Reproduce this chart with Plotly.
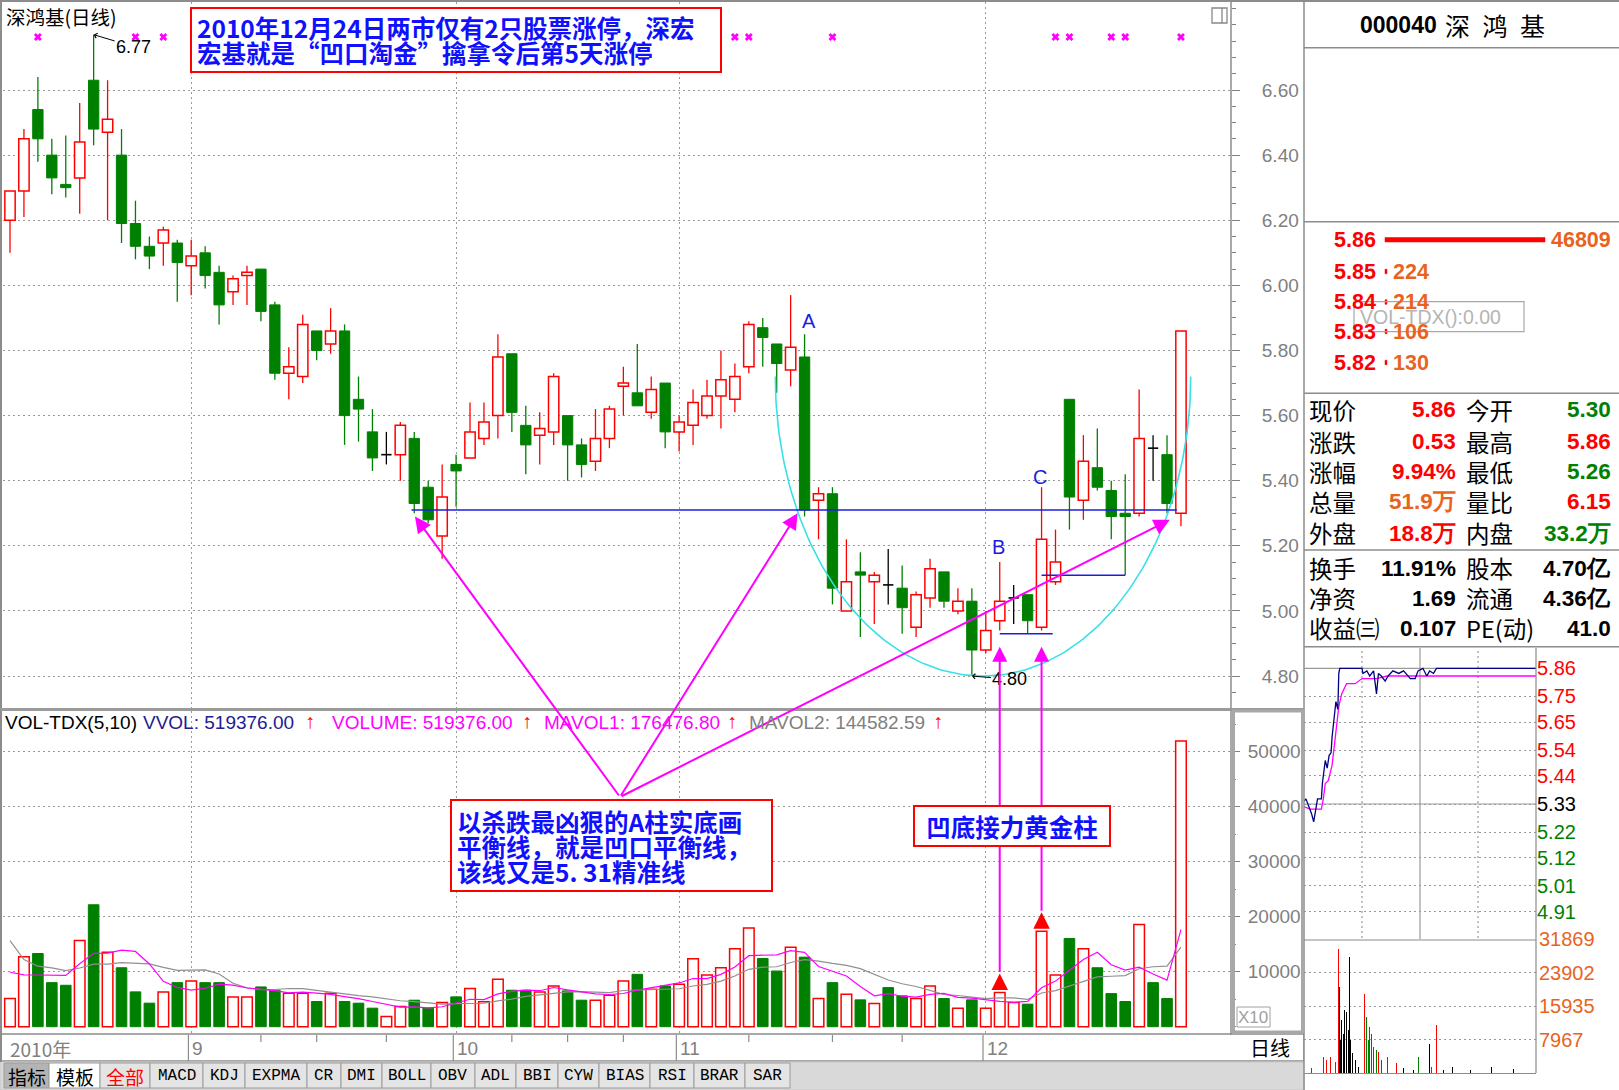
import numpy as np
import pandas as pd
import plotly.graph_objects as go

W, H = 1619, 1090

# ---------------- daily bars: 000040 深鸿基, Aug - Dec 2010 ----------------
opens = [6.20, 6.29, 6.54, 6.40, 6.31, 6.33, 6.63, 6.47, 6.40, 6.19,
         6.12, 6.13, 6.13, 6.06, 6.10, 6.04, 5.98, 6.03, 6.05, 5.94,
         5.73, 5.72, 5.86, 5.82, 5.86, 5.65, 5.55, 5.48, 5.48, 5.53,
         5.38, 5.23, 5.45, 5.47, 5.53, 5.60, 5.79, 5.57, 5.54, 5.55,
         5.60, 5.51, 5.46, 5.53, 5.69, 5.67, 5.61, 5.70, 5.55, 5.57,
         5.60, 5.66, 5.65, 5.75, 5.87, 5.82, 5.74, 5.78, 5.34, 5.36,
         5.00, 5.12, 5.09, 5.08, 5.07, 4.95, 5.04, 5.12, 5.00, 5.03,
         4.88, 4.97, 5.04, 5.05, 4.95, 5.09, 5.65, 5.34, 5.44, 5.37,
         5.30, 5.30, 5.50, 5.48, 5.30]
highs = [6.29, 6.48, 6.64, 6.45, 6.46, 6.56, 6.77, 6.63, 6.48, 6.26,
         6.15, 6.18, 6.14, 6.14, 6.12, 6.06, 6.03, 6.06, 6.05, 5.95,
         5.81, 5.91, 5.86, 5.93, 5.88, 5.72, 5.62, 5.55, 5.58, 5.55,
         5.40, 5.45, 5.48, 5.64, 5.64, 5.85, 5.79, 5.63, 5.61, 5.73,
         5.60, 5.53, 5.62, 5.63, 5.75, 5.82, 5.72, 5.70, 5.60, 5.68,
         5.71, 5.80, 5.76, 5.89, 5.90, 5.82, 5.97, 5.85, 5.38, 5.38,
         5.22, 5.18, 5.12, 5.19, 5.14, 5.06, 5.16, 5.12, 5.07, 5.07,
         5.00, 5.15, 5.08, 5.05, 5.38, 5.25, 5.65, 5.54, 5.56, 5.40,
         5.42, 5.68, 5.54, 5.54, 5.86]
lows = [6.10, 6.21, 6.38, 6.28, 6.27, 6.22, 6.43, 6.20, 6.13, 6.08,
        6.05, 6.06, 5.95, 5.97, 5.99, 5.88, 5.94, 5.94, 5.89, 5.71,
        5.65, 5.70, 5.77, 5.79, 5.51, 5.52, 5.43, 5.45, 5.40, 5.30,
        5.27, 5.16, 5.32, 5.47, 5.51, 5.53, 5.55, 5.42, 5.45, 5.51,
        5.40, 5.41, 5.43, 5.50, 5.60, 5.63, 5.59, 5.50, 5.49, 5.51,
        5.59, 5.56, 5.61, 5.73, 5.75, 5.67, 5.69, 5.29, 5.22, 5.02,
        5.00, 4.92, 4.96, 5.02, 4.93, 4.92, 5.01, 5.01, 4.99, 4.80,
        4.87, 4.94, 4.96, 4.93, 4.94, 5.08, 5.25, 5.28, 5.37, 5.22,
        5.11, 5.29, 5.40, 5.30, 5.26]
closes = [6.29, 6.45, 6.45, 6.33, 6.30, 6.44, 6.48, 6.51, 6.19, 6.12,
          6.09, 6.17, 6.07, 6.09, 6.03, 5.94, 6.02, 6.04, 5.92, 5.73,
          5.75, 5.88, 5.80, 5.86, 5.60, 5.62, 5.47, 5.48, 5.57, 5.33,
          5.28, 5.35, 5.43, 5.55, 5.58, 5.78, 5.61, 5.51, 5.56, 5.72,
          5.51, 5.45, 5.53, 5.62, 5.70, 5.63, 5.68, 5.55, 5.58, 5.64,
          5.66, 5.71, 5.72, 5.88, 5.84, 5.76, 5.81, 5.31, 5.36, 5.07,
          5.09, 5.11, 5.11, 5.08, 5.01, 5.05, 5.13, 5.03, 5.03, 4.88,
          4.94, 5.03, 5.04, 4.97, 5.22, 5.15, 5.35, 5.46, 5.38, 5.29,
          5.29, 5.53, 5.50, 5.33, 5.86]
volumes = [51200, 127100, 133100, 80100, 75300, 156600, 221700, 135500, 107200, 63300,
           42800, 63300, 80100, 83100, 80100, 80100, 54200, 54200, 72300, 66300,
           60800, 60800, 45800, 60800, 45800, 42800, 33700, 18700, 36700, 48200,
           33700, 44000, 54200, 69300, 45200, 86100, 66300, 66300, 63300, 74100,
           65100, 48200, 48200, 57200, 83100, 95200, 68100, 74100, 77100, 123500,
           94000, 107200, 141600, 179500, 124100, 101200, 144600, 126500, 51200, 80100,
           59000, 48800, 42200, 71100, 56000, 51200, 74100, 51200, 33700, 48800,
           33700, 62000, 44000, 41000, 173500, 94000, 160442, 141600, 107200, 60199.9,
           45800, 185908, 80100, 51200, 519376]
# volumes of the nine sessions before the window (seed the moving averages)
vol_before = [473100, 253100, 110100, 125300, 109700, 150000, 135000, 80000, 78500]

signal_days = [3, 10, 12, 53, 54, 60, 76, 77, 80, 81, 85]
month_starts = [14, 33, 49, 71]
month_labels = ["9", "10", "11", "12"]
week_marks = [19, 23, 28, 37, 41, 45, 54, 60, 65]
price_ticks = [4.80, 5.00, 5.20, 5.40, 5.60, 5.80, 6.00, 6.20, 6.40, 6.60]
vol_ticks = [100000, 200000, 300000, 400000, 500000]
balance_price = 5.31
day_a, day_b, day_c = 58, 72, 75

# ---------------- intraday, 2010-12-24 ----------------
tick_min = [0, 2, 5, 8, 10, 12, 14, 16, 18, 19, 21, 22, 24, 26, 28, 29, 31, 33, 35, 36,
            37, 60, 61, 65, 68, 72, 75, 77, 80, 84, 87, 92, 98, 103, 110, 115, 118, 123,
            127, 130, 134, 137, 240]
tick_price = [5.34, 5.35, 5.32, 5.29, 5.26, 5.31, 5.35, 5.35, 5.35, 5.41, 5.46, 5.50, 5.47,
              5.52, 5.53, 5.59, 5.66, 5.73, 5.70, 5.84, 5.86, 5.86, 5.84, 5.85, 5.83, 5.85,
              5.76, 5.84, 5.83, 5.81, 5.83, 5.85, 5.84, 5.85, 5.82, 5.82, 5.85, 5.86, 5.83,
              5.85, 5.84, 5.86, 5.86]
avg_min = [0, 6, 18, 20, 22, 25, 29, 32, 36, 39, 44, 53, 60, 75, 86, 106, 134, 240]
avg_price = [5.32, 5.31, 5.31, 5.35, 5.41, 5.42, 5.48, 5.58, 5.71, 5.76, 5.80, 5.80, 5.82,
             5.82, 5.83, 5.83, 5.83, 5.83]
iv_min = [8, 20, 23, 27, 30, 33, 36, 37, 38, 39, 41, 42, 44, 46, 47, 48, 50, 53, 56, 61,
          63, 65, 67, 68, 70, 72, 75, 77, 80, 86, 89, 92, 96, 103, 113, 118, 120, 122, 130,
          132, 137, 144, 154, 172, 194, 217]
iv_vol = [1180, 3930, 3150, 3930, 4720, 2750, 29510, 20460, 7870, 12590, 9440, 14950, 14560,
          10230, 27540, 7870, 4720, 3150, 1570, 25970, 18890, 13380, 7870, 11020, 9440, 6300,
          5510, 5120, 3150, 3930, 2360, 5120, 2360, 1180, 790, 3930, 22820, 2360, 7080, 1570,
          11410, 790, 1570, 790, 1570, 940]
iv_dir = ["g", "r", "r", "r", "r", "r", "r", "k", "k", "k", "k", "k", "k", "k", "k", "k", "k",
          "k", "k", "g", "r", "g", "g", "g", "r", "g", "g", "r", "g", "r", "g", "r", "r", "k",
          "k", "g", "k", "r", "k", "r", "r", "k", "k", "k", "k", "k"]
pre_close = 5.33
intraday_ticks = [5.86, 5.75, 5.65, 5.54, 5.44, 5.33, 5.22, 5.12, 5.01, 4.91]
intraday_vol_ticks = [7967, 15935, 23902, 31869]

# ---------------- quote panel ----------------
ob_prices = ["5.86", "5.85", "5.84", "5.83", "5.82"]
ob_volumes = [46809, 224, 214, 106, 130]
quote_left = [("现价", "5.86", "r"), ("涨跌", "0.53", "r"), ("涨幅", "9.94%", "r"),
              ("总量", "51.9万", "o"), ("外盘", "18.8万", "r")]
quote_right = [("今开", "5.30", "g"), ("最高", "5.86", "r"), ("最低", "5.26", "g"),
               ("量比", "6.15", "r"), ("内盘", "33.2万", "g")]
fin_left = [("换手", "11.91%"), ("净资", "1.69"), ("收益㈢", "0.107")]
fin_right = [("股本", "4.70亿"), ("流通", "4.36亿"), ("PE(动)", "41.0")]

# ---------------- style ----------------
RED, GREEN, BLACK = "#ff0000", "#008000", "#000000"
ORANGE = "#e8641e"
MAG, CYAN, BLUE = "#ff00ff", "#38e0e8", "#1c1ce0"
NOTE_BLUE = "#1010ff"
GRAYTXT, GRID, FRAME = "#808080", "#9a9a9a", "#8c8c8c"
DOT = "2px,3px"
SANS = "Liberation Sans, Arial, sans-serif"
CJK = "Noto Sans CJK SC, sans-serif"
MONO = "Liberation Mono, monospace"
COLMAP = {"r": RED, "g": GREEN, "k": BLACK, "o": ORANGE}
NOTE_SIZE = 24.5

# pixel geometry of the panels
X0_PX, X_STEP = 10.0, 13.94            # centre of bar 1, bar spacing
P_REF, P_REF_PX, P_SCALE = 6.60, 90.0, 325.6
V_ZERO_PX, V_SCALE = 1026.7, 55.0 / 100000
MAIN_L, MAIN_R = 3, 1231
PRICE_T, PRICE_B = 2, 708
VOL_T, VOL_B = 711, 1033


def idx_px(i):
    return X0_PX + (i - 1) * X_STEP


def price_px(p):
    return P_REF_PX + (P_REF - p) * P_SCALE


def vol_px(v):
    return V_ZERO_PX - v * V_SCALE


XR = [1 + (MAIN_L - X0_PX) / X_STEP, 1 + (MAIN_R - X0_PX) / X_STEP]
PR = [P_REF - (PRICE_B - P_REF_PX) / P_SCALE, P_REF + (P_REF_PX - PRICE_T) / P_SCALE]
VR = [-(VOL_B - V_ZERO_PX) / V_SCALE, (V_ZERO_PX - VOL_T) / V_SCALE]

o, h, l, c = (np.array(a, dtype=float) for a in (opens, highs, lows, closes))
v = np.array(volumes, dtype=float)
idx = np.arange(1, len(c) + 1)
up, down, flat = c > o, c < o, c == o
prev_c = np.concatenate([[c[0]], c[:-1]])
vol_up = up | (flat & (c >= prev_c))

fig = go.Figure()


def wick_xy(mask):
    xs, ys = [], []
    for i in np.where(mask)[0]:
        top, bot = max(o[i], c[i]), min(o[i], c[i])
        if h[i] > top:
            xs += [idx[i], idx[i], None]
            ys += [top, h[i], None]
        if l[i] < bot:
            xs += [idx[i], idx[i], None]
            ys += [l[i], bot, None]
    return xs, ys


for mask, col in ((up, RED), (down, GREEN), (flat, BLACK)):
    xs, ys = wick_xy(mask)
    fig.add_trace(go.Scatter(x=xs, y=ys, mode="lines", line=dict(color=col, width=1.3),
                             xaxis="x", yaxis="y", hoverinfo="skip"))

BW = 0.74
fig.add_trace(go.Bar(x=idx[up], y=(c - o)[up], base=o[up], width=BW, xaxis="x", yaxis="y",
                     marker=dict(color="white", line=dict(color=RED, width=1.5)), hoverinfo="skip"))
fig.add_trace(go.Bar(x=idx[down], y=(o - c)[down], base=c[down], width=BW, xaxis="x", yaxis="y",
                     marker=dict(color=GREEN, line=dict(color=GREEN, width=1)), hoverinfo="skip"))
dx, dy = [], []
for i in np.where(flat)[0]:
    dx += [idx[i] - BW / 2, idx[i] + BW / 2, None]
    dy += [o[i], o[i], None]
fig.add_trace(go.Scatter(x=dx, y=dy, mode="lines", line=dict(color=BLACK, width=1.6),
                         xaxis="x", yaxis="y", hoverinfo="skip"))

# U-shaped bowl drawn from bar A round the December low
theta = np.linspace(0, np.pi, 160)
arc_cx, arc_rx, arc_cy, arc_ry = 70.8, 14.9, 5.72, 0.92
fig.add_trace(go.Scatter(x=arc_cx - arc_rx * np.cos(theta), y=arc_cy - arc_ry * np.sin(theta),
                         mode="lines", line=dict(color=CYAN, width=1.6), xaxis="x", yaxis="y",
                         hoverinfo="skip"))

# signal row along the top edge
signal_row = P_REF + (P_REF_PX - 37) / P_SCALE
fig.add_trace(go.Scatter(x=signal_days, y=[signal_row] * len(signal_days), mode="markers",
                         marker=dict(symbol="x", size=7, color=MAG), xaxis="x", yaxis="y",
                         hoverinfo="skip"))

# volume panel
VW = 0.76
fig.add_trace(go.Bar(x=idx[vol_up], y=v[vol_up], width=VW, xaxis="x2", yaxis="y2",
                     marker=dict(color="white", line=dict(color=RED, width=1.5)), hoverinfo="skip"))
fig.add_trace(go.Bar(x=idx[~vol_up], y=v[~vol_up], width=VW, xaxis="x2", yaxis="y2",
                     marker=dict(color=GREEN, line=dict(color=GREEN, width=1)), hoverinfo="skip"))
full_vol = pd.Series(vol_before + volumes, dtype=float)
ma5 = full_vol.rolling(5).mean().to_numpy()[len(vol_before):]
ma10 = full_vol.rolling(10).mean().to_numpy()[len(vol_before):]
fig.add_trace(go.Scatter(x=idx, y=ma10, mode="lines", line=dict(color="#909090", width=1.2),
                         xaxis="x2", yaxis="y2", hoverinfo="skip"))
fig.add_trace(go.Scatter(x=idx, y=ma5, mode="lines", line=dict(color=MAG, width=1.2),
                         xaxis="x2", yaxis="y2", hoverinfo="skip"))

# intraday panel
fig.add_trace(go.Scatter(x=avg_min, y=avg_price, mode="lines", line=dict(color=MAG, width=1.3),
                         xaxis="x3", yaxis="y3", hoverinfo="skip"))
fig.add_trace(go.Scatter(x=tick_min, y=tick_price, mode="lines", line=dict(color="#000080", width=1.3),
                         xaxis="x3", yaxis="y3", hoverinfo="skip"))
for key in ("k", "g", "r"):
    sel = [i for i, d in enumerate(iv_dir) if d == key]
    fig.add_trace(go.Bar(x=[iv_min[i] for i in sel], y=[iv_vol[i] for i in sel], width=0.9,
                         marker=dict(color=COLMAP[key], line=dict(width=0)),
                         xaxis="x4", yaxis="y4", hoverinfo="skip"))

# ---------------- shapes ----------------
shapes = []


def pline(x0, y0, x1, y1, color=FRAME, width=1.5, dash=None, layer="above"):
    d = dict(type="line", xref="paper", yref="paper", x0=x0 / W, x1=x1 / W,
             y0=1 - y0 / H, y1=1 - y1 / H, line=dict(color=color, width=width), layer=layer)
    if dash:
        d["line"]["dash"] = dash
    shapes.append(d)


def prect(x0, y0, x1, y1, line=FRAME, width=1.5, fill=None, layer="above"):
    shapes.append(dict(type="rect", xref="paper", yref="paper", x0=x0 / W, x1=x1 / W,
                       y0=1 - y1 / H, y1=1 - y0 / H, line=dict(color=line, width=width),
                       fillcolor=fill or "rgba(0,0,0,0)", layer=layer))


# window frame
pline(0, 1, W, 1, width=2)
pline(1, 0, 1, 1062, width=2)
pline(MAIN_R, 0, MAIN_R, 1035, width=1.5)
pline(1304, 0, 1304, H, width=1.5)
pline(0, 709.5, 1304, 709.5, color="#9a9a9a", width=3)
prect(1233.5, 711, 1302.5, 1032, line="#a8a8a8", width=3)
prect(1, 1034, 1304, 1061, line=FRAME, width=1.5, fill="white", layer="below")
prect(1237, 1007, 1270, 1027, line="#a0a0a0", width=1)
# date row separators and week marks
for m in month_starts:
    shapes.append(dict(type="line", xref="x2", yref="paper", x0=m - 0.2, x1=m - 0.2,
                       y0=1 - 1061 / H, y1=1 - 1035 / H, line=dict(color=FRAME, width=1.2)))
for wk in week_marks:
    shapes.append(dict(type="line", xref="x2", yref="paper", x0=wk, x1=wk,
                       y0=1 - 1042 / H, y1=1 - 1035 / H, line=dict(color=FRAME, width=1.2)))
# split-window icon
prect(1212, 8, 1227, 23, line="#888888", width=1.3)
pline(1222, 8, 1222, 23, color="#888888", width=1.3)

# tab bar
prect(0, 1062, 1304, 1090, line="#c8c8c8", width=1, fill="#d9d9d9", layer="below")
tabs = [("指标", 4, 49), ("模板", 49, 100), ("全部", 100, 150), ("MACD", 150, 203),
        ("KDJ", 203, 245), ("EXPMA", 245, 307), ("CR", 307, 341), ("DMI", 341, 382),
        ("BOLL", 382, 431), ("OBV", 431, 475), ("ADL", 475, 516), ("BBI", 516, 558),
        ("CYW", 558, 599), ("BIAS", 599, 650), ("RSI", 650, 694), ("BRAR", 694, 745),
        ("SAR", 745, 790)]
for name, x0, x1 in tabs:
    fill = "#b4b4b4" if name == "指标" else ("white" if name == "模板" else "#e4e4e4")
    prect(x0, 1063, x1, 1088, line="#9c9c9c", width=1, fill=fill, layer="below")

# quote panel rules
for yy in (47.7, 221.7, 393.3, 550, 646.7):
    pline(1304, yy, W, yy, width=1.5)
pline(1536, 648, 1536, 1073, width=1.2)
pline(1304, 940, 1536, 940, width=1.2)
pline(1304, 1073.5, 1536, 1073.5, width=1.2)
for m_, dash in ((60, "dot"), (120, None), (180, "dot")):
    d = dict(type="line", xref="x3", yref="paper", x0=m_, x1=m_, y0=1 - 1073 / H, y1=1 - 648 / H,
             line=dict(color="#9a9a9a", width=1.2), layer="below")
    if dash:
        d["line"]["dash"] = DOT
    shapes.append(d)
for lvl in (intraday_ticks[0], pre_close):
    shapes.append(dict(type="line", xref="paper", yref="y3", x0=1304 / W, x1=1536 / W, y0=lvl, y1=lvl,
                       line=dict(color="#9a9a9a", width=1.2), layer="below"))

# order book bars (length proportional to size)
ob_y = [240, 271.7, 302.3, 331.7, 362.7]
ob_x0, ob_len = 1385, 160
for vol_, yy in zip(ob_volumes, ob_y):
    ln = max(ob_len * vol_ / max(ob_volumes), 2)
    prect(ob_x0, yy - 2.5, ob_x0 + ln, yy + 2, line=RED, width=0.5, fill=RED)
prect(1354, 301.7, 1524, 331.7, line="#a8a8a8", width=1.2)

# annotation boxes
prect(191, 8, 721, 72, line=RED, width=2, fill="white")
prect(451, 800, 772, 891, line=RED, width=2, fill="white")

# balance line at the foot of bar A, plus the two support marks
shapes.append(dict(type="line", xref="x", yref="y", x0=29.8, x1=84.7, y0=balance_price,
                   y1=balance_price, line=dict(color=BLUE, width=1.6), layer="above"))
shapes.append(dict(type="line", xref="x", yref="y", x0=day_b, x1=day_c + 0.8,
                   y0=lows[day_b + 1], y1=lows[day_b + 1], line=dict(color=BLUE, width=1.5)))
shapes.append(dict(type="line", xref="x", yref="y", x0=day_c, x1=81,
                   y0=lows[80], y1=lows[80], line=dict(color=BLUE, width=1.5)))

# ---------------- annotations ----------------
ann = []


def txt(x, y, s, size=19, color=BLACK, family=SANS, xanchor="left", yanchor="middle", **kw):
    d = dict(x=x / W, y=1 - y / H, xref="paper", yref="paper", text=s, showarrow=False,
             font=dict(size=size, color=color, family=family), xanchor=xanchor, yanchor=yanchor)
    d.update(kw)
    ann.append(d)


txt(4, 17, "深鸿基(日线)", size=19.5, family=CJK)
txt(195, 27, "<b>2010年12月24日两市仅有2只股票涨停，深宏</b>", size=NOTE_SIZE, color=NOTE_BLUE, family=CJK)
txt(195, 53, "<b>宏基就是“凹口淘金”擒拿令后第5天涨停</b>", size=NOTE_SIZE, color=NOTE_BLUE, family=CJK)

ann.append(dict(x=7, y=highs[6], xref="x", yref="y", text="6.77", showarrow=True, ax=40, ay=12,
                arrowhead=4, arrowsize=1, arrowwidth=1, arrowcolor=BLACK,
                font=dict(size=18, color=BLACK, family=SANS)))
ann.append(dict(x=70, y=lows[69], xref="x", yref="y", text="4.80", showarrow=True, ax=38, ay=3,
                arrowhead=4, arrowsize=1, arrowwidth=1, arrowcolor=BLACK,
                font=dict(size=18, color=BLACK, family=SANS)))

for lab, d_, ys, xs in (("A", day_a, 13, 4), ("B", day_b, 15, -1), ("C", day_c, 10, -2)):
    ann.append(dict(x=d_, y=highs[d_ - 1], xref="x", yref="y", text=lab, showarrow=False,
                    yshift=ys, xshift=xs, font=dict(size=20, color=BLUE, family=SANS)))

# arrows from the explanation box to the three touches of the balance line
tail_x, tail_y = 620, 797
for hx, hy in ((30.05, 5.29), (57.5, 5.30), (84.2, 5.28)):
    ann.append(dict(x=hx, y=hy, xref="x", yref="y", text="", showarrow=True,
                    ax=tail_x - idx_px(hx), ay=tail_y - price_px(hy),
                    arrowhead=2, arrowsize=1.6, arrowwidth=2, arrowcolor=MAG))

# red volume marks and the rising arrows to the B/C bars
MARK_GAP = 19
for d_ in (day_b, day_c):
    vv = volumes[d_ - 1]
    ann.append(dict(x=d_, y=vv, xref="x2", yref="y2", text="", showarrow=True, ax=0, ay=17,
                    yshift=MARK_GAP, arrowhead=2, arrowsize=1.1, arrowwidth=3, arrowcolor=RED))
    head = lows[d_ - 1] - 0.05
    ann.append(dict(x=d_, y=head, xref="x", yref="y", text="", showarrow=True, ax=0,
                    ay=(vol_px(vv) - MARK_GAP) - price_px(head),
                    arrowhead=2, arrowsize=1.5, arrowwidth=2, arrowcolor=MAG))

for k, line in enumerate(["<b>以杀跌最凶狠的A柱实底画</b>", "<b>平衡线，就是凹口平衡线，</b>",
                          "<b>该线又是5. 31精准线</b>"]):
    txt(455, 821.7 + 25 * k, line, size=NOTE_SIZE, color=NOTE_BLUE, family=CJK)
ann.append(dict(x=1012 / W, y=1 - 846.5 / H, xref="paper", yref="paper",
                text="<b>凹底接力黄金柱</b>", showarrow=False, bgcolor="white", bordercolor=RED,
                borderwidth=2, borderpad=3, width=188, height=32,
                font=dict(size=NOTE_SIZE, color=NOTE_BLUE, family=CJK)))

# indicator header
up_arrow = "<b>↑</b>"
txt(3, 722, "VOL-TDX(5,10)", size=19)
txt(141, 722, f"VVOL: {volumes[-1]:.2f}", size=19, color="#202090")
txt(303, 721, up_arrow, size=20, color=RED)
txt(330, 722, f"VOLUME: {volumes[-1]:.2f}", size=19, color=MAG)
txt(520, 721, up_arrow, size=20, color=RED)
txt(542, 722, f"MAVOL1: {ma5[-1]:.2f}", size=19, color=MAG)
txt(725, 721, up_arrow, size=20, color=RED)
txt(747, 722, f"MAVOL2: {ma10[-1]:.2f}", size=19, color=GRAYTXT)
txt(931, 721, up_arrow, size=20, color=RED)

# date row
txt(8, 1048, "2010年", size=19, color=GRAYTXT, family=CJK)
for m, lab in zip(month_starts, month_labels):
    ann.append(dict(x=m - 0.2, y=1 - 1048 / H, xref="x2", yref="paper", text=lab, showarrow=False,
                    xanchor="left", yanchor="middle", xshift=2,
                    font=dict(size=19, color=GRAYTXT, family=SANS)))
txt(1270, 1047, "日线", size=20, family=CJK, xanchor="center")
txt(1253, 1017, "X10", size=17, color="#a0a0a0", xanchor="center")

# tab captions
for name, x0, x1 in tabs:
    cjk = not name.isascii()
    txt((x0 + x1) / 2, 1076, name, size=19 if cjk else 16,
        color=RED if name == "全部" else BLACK, family=CJK if cjk else MONO, xanchor="center")

# quote panel
txt(1439, 25, "<b>000040</b>", size=23, xanchor="right")
txt(1443, 25, "深\u2002鸿\u2002基", size=25, family=CJK)
for p_, vol_, yy in zip(ob_prices, ob_volumes, ob_y):
    txt(1332, yy, f"<b>{p_}</b>", size=21.5, color=RED)
    ln = max(ob_len * vol_ / max(ob_volumes), 2)
    txt(ob_x0 + ln + 4, yy, f"<b>{vol_}</b>", size=21.5, color=ORANGE)
txt(1358, 316.7, "VOL-TDX():0.00", size=19.5, color="#b4b4b4")
qa_y = [410, 441.7, 471.7, 501.7, 533.3]
for (la, va, ca), (lb, vb, cb), yy in zip(quote_left, quote_right, qa_y):
    txt(1307, yy, la, size=23.5, family=CJK)
    txt(1458, yy, f"<b>{va}</b>", size=22.5, color=COLMAP[ca], xanchor="right")
    txt(1464, yy, lb, size=23.5, family=CJK)
    txt(1613, yy, f"<b>{vb}</b>", size=22.5, color=COLMAP[cb], xanchor="right")
fb_y = [568.3, 598.3, 628.3]
for (la, va), (lb, vb), yy in zip(fin_left, fin_right, fb_y):
    txt(1307, yy, la, size=23.5, family=CJK)
    txt(1458, yy, f"<b>{va}</b>", size=22.5, xanchor="right")
    txt(1464, yy, lb, size=23.5, family=CJK)
    txt(1613, yy, f"<b>{vb}</b>", size=22.5, xanchor="right")


def tick_colour(t):
    if abs(t - pre_close) < 1e-9:
        return BLACK
    return RED if t > pre_close else GREEN


axis_common = dict(showline=False, zeroline=False, fixedrange=True, automargin=False)
fig.update_layout(
    width=W, height=H, margin=dict(l=0, r=0, t=0, b=0, pad=0, autoexpand=False), autosize=False,
    paper_bgcolor="white", plot_bgcolor="white", showlegend=False, barmode="overlay",
    bargap=0, hovermode=False, shapes=shapes, annotations=ann,
    xaxis=dict(domain=[MAIN_L / W, MAIN_R / W], range=XR, anchor="y", tickvals=month_starts,
               showticklabels=False, ticks="", showgrid=True, gridcolor=GRID, griddash=DOT,
               **axis_common),
    yaxis=dict(domain=[1 - PRICE_B / H, 1 - PRICE_T / H], range=PR, anchor="x", side="right",
               tickvals=price_ticks, ticktext=[f"{t:.2f}" for t in price_ticks],
               tickfont=dict(size=19, color=GRAYTXT, family=SANS), ticks="outside", ticklen=8,
               tickcolor=GRAYTXT, ticklabelstandoff=18, showgrid=True, gridcolor=GRID, griddash=DOT,
               minor=dict(tickvals=list(np.round(np.arange(4.75, 6.86, 0.05), 2)), ticks="outside",
                          ticklen=4, tickcolor=GRAYTXT, showgrid=False),
               **axis_common),
    xaxis2=dict(domain=[MAIN_L / W, MAIN_R / W], range=XR, anchor="y2", tickvals=month_starts,
                showticklabels=False, ticks="", showgrid=True, gridcolor=GRID, griddash=DOT,
                **axis_common),
    yaxis2=dict(domain=[1 - VOL_B / H, 1 - VOL_T / H], range=VR, anchor="x2", side="right",
                tickvals=vol_ticks, ticktext=[str(t // 10) for t in vol_ticks],
                tickfont=dict(size=19, color=GRAYTXT, family=SANS), ticks="outside", ticklen=8,
                tickcolor=GRAYTXT, ticklabelstandoff=4, showgrid=True, gridcolor=GRID, griddash=DOT,
                minor=dict(dtick=50000, tick0=0, ticks="outside", ticklen=4, tickcolor=GRAYTXT,
                           showgrid=False),
                **axis_common),
    xaxis3=dict(domain=[1304 / W, 1536 / W], range=[0, 240], anchor="y3", showticklabels=False,
                ticks="", showgrid=False, **axis_common),
    yaxis3=dict(domain=[1 - 940 / H, 1 - 648 / H],
                range=[pre_close - (940 - 804) / 256.0, pre_close + (804 - 648) / 256.0],
                anchor="x3", side="right", tickvals=intraday_ticks,
                ticktext=[f"<span style='color:{tick_colour(t)}'>{t:.2f}</span>" for t in intraday_ticks],
                tickfont=dict(size=20, family=SANS), ticks="", ticklabelstandoff=0,
                showgrid=True, gridcolor=GRID, griddash=DOT, **axis_common),
    xaxis4=dict(domain=[1304 / W, 1536 / W], range=[0, 240], anchor="y4", showticklabels=False,
                ticks="", showgrid=False, **axis_common),
    yaxis4=dict(domain=[1 - 1073.3 / H, 1 - 939.3 / H], range=[0, intraday_vol_ticks[-1]],
                anchor="x4", side="right", tickvals=intraday_vol_ticks,
                ticktext=[str(t) for t in intraday_vol_ticks],
                tickfont=dict(size=20, color=ORANGE, family=SANS), ticks="", ticklabelstandoff=2,
                showgrid=True, gridcolor=GRID, griddash=DOT, **axis_common),
)

fig.write_html("out.html", config=dict(displayModeBar=False, staticPlot=True),
               post_script="document.body.style.margin='0';document.body.style.overflow='hidden';")
